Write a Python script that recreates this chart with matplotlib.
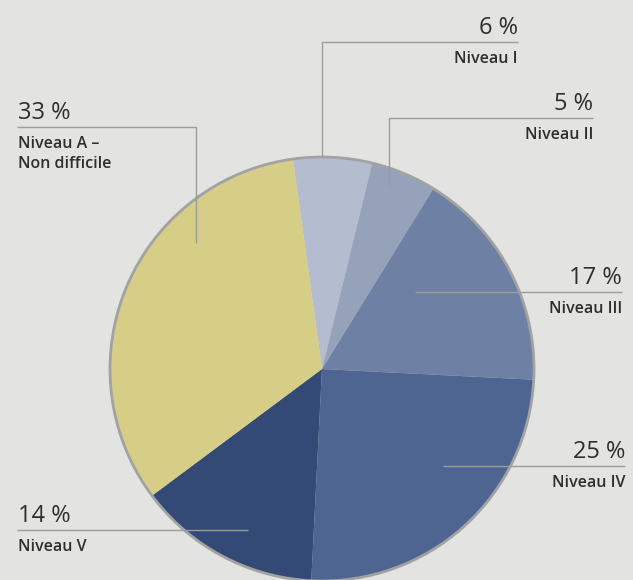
import matplotlib
matplotlib.use("Agg")
import matplotlib.pyplot as plt
from matplotlib.patches import Circle

# share of each difficulty level, in drawing order (clockwise from the top)
levels = ["Niveau I", "Niveau II", "Niveau III", "Niveau IV", "Niveau V", "Niveau A –\nNon difficile"]
shares = [6, 5, 17, 25, 14, 33]
colors = ["#b4bdd0", "#96a2ba", "#6e81a4", "#4e6491", "#334976", "#d6cd86"]

W, H = 633, 580
BG = "#e3e3e1"
LINE = "#9c9c9c"
TEXT = "#2e2e2e"

plt.rcParams['font.family'] = ['Open Sans', 'DejaVu Sans']

fig = plt.figure(figsize=(W / 100, H / 100), dpi=100, facecolor=BG)
ax = fig.add_axes([0, 0, 1, 1])


def py(y):
    # pixel rows are counted from the top
    return H - y


cx, cy, r = 322, py(369), 212
ax.pie(shares, colors=colors, startangle=97.9, counterclock=False,
       center=(cx, cy), radius=r, frame=True,
       wedgeprops=dict(linewidth=0, antialiased=True))
ax.add_patch(Circle((cx, cy), r, fill=False, edgecolor="#a2a2a2", linewidth=2, zorder=3))
ax.set_xlim(0, W)
ax.set_ylim(0, H)
ax.set_aspect("equal")
ax.axis("off")

# label layout: leader path (pixel coords), text anchor x, alignment, line row
layout = [
    ([(322, 157), (322, 42), (518, 42)], 518, "right", 42),
    ([(389, 187), (389, 118), (593, 118)], 593, "right", 118),
    ([(415, 292), (622, 292)], 622, "right", 292),
    ([(443, 466), (625, 466)], 625, "right", 466),
    ([(248, 530), (17, 530)], 18, "left", 530),
    ([(196, 243), (196, 127), (17, 127)], 18, "left", 127),
]

for name, val, (path, tx, ha, ly) in zip(levels, shares, layout):
    xs = [p[0] for p in path]
    ys = [py(p[1]) for p in path]
    ax.plot(xs, ys, color=LINE, linewidth=1, zorder=4, solid_capstyle="butt")
    ax.text(tx, py(ly - 8), f"{val} %", ha=ha, va="baseline",
            fontsize=17, color=TEXT, zorder=5)
    ax.text(tx, py(ly + 9), name, ha=ha, va="top", fontsize=11.5,
            fontweight="semibold", color=TEXT, linespacing=1.35, zorder=5)

fig.savefig("out.png", dpi=100, facecolor=BG)
